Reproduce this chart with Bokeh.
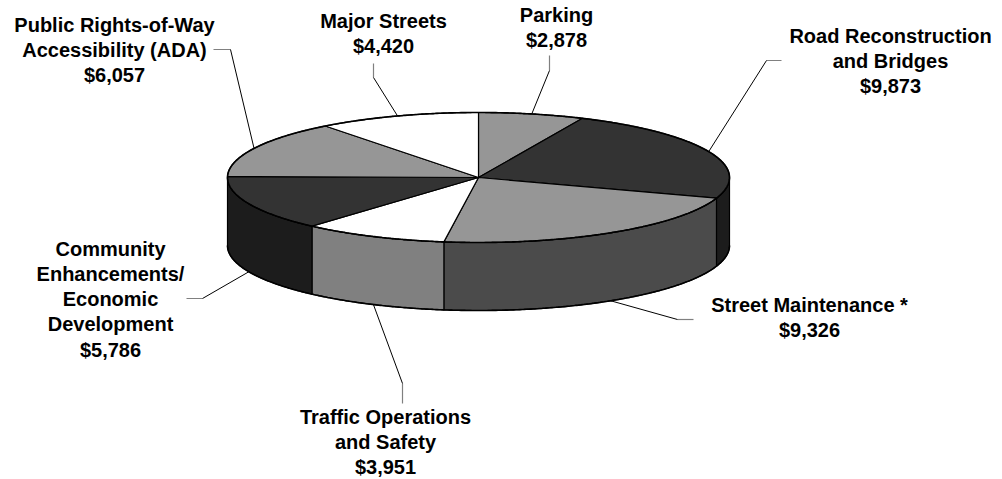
import numpy as np
from bokeh.plotting import figure
from bokeh.models import Range1d
from bokeh.core.properties import value
from bokeh.embed import file_html
from bokeh.resources import INLINE

# ---- data ----
categories = ["Parking", "Road Reconstruction\nand Bridges", "Street Maintenance *",
              "Traffic Operations\nand Safety", "Community\nEnhancements/\nEconomic\nDevelopment",
              "Public Rights-of-Way\nAccessibility (ADA)", "Major Streets"]
values = [2878, 9873, 9326, 3951, 5786, 6057, 4420]
top_colors = ["#969696", "#333333", "#969696", "#ffffff", "#333333", "#969696", "#ffffff"]
side_colors = ["#4b4b4b", "#1c1c1c", "#4b4b4b", "#808080", "#1c1c1c", "#4b4b4b", "#808080"]

# ---- layout (pixel-like coordinates) ----
CX, CY, RX, RY, DEPTH = 478.0, 177.0, 251.0, 65.0, 68.0
label_pos = [(556, 14), (890, 35), (809, 304), (385, 416), (110, 248), (114, 24), (383, 20)]
stub_start = [(549, 55), (781, 60), (693, 319), (402, 403), (186, 298), (213, 49), (373, 63)]
elbow = [(549, 70), (766, 60), (677, 319), (402, 383), (202, 298), (230, 49), (373, 77)]
LINE_SP = 25.3
FONT = value("Liberation Sans")

W, H = 1002, 479
p = figure(width=W, height=H, output_backend="svg", toolbar_location=None,
           x_range=Range1d(0, W), y_range=Range1d(H, 0), min_border=0)
p.axis.visible = False
p.grid.visible = False
p.outline_line_color = None
p.background_fill_color = "white"


def ex(t):
    return CX + RX * np.sin(np.radians(t))


def ey(t):
    return CY - RY * np.cos(np.radians(t))


total = float(sum(values))
cum = np.concatenate([[0.0], np.cumsum(values)]) / total * 360.0
starts, ends = cum[:-1], cum[1:]

# sides (front half only: angles 90..270 measured clockwise from top)
sxs, sys_, scol = [], [], []
for a0, a1, c in zip(starts, ends, side_colors):
    lo, hi = max(a0, 90.0), min(a1, 270.0)
    if hi <= lo:
        continue
    t = np.linspace(lo, hi, 120)
    xs = list(ex(t)) + list(ex(t[::-1]))
    ys = list(ey(t)) + list(ey(t[::-1]) + DEPTH)
    sxs.append(xs)
    sys_.append(ys)
    scol.append(c)
p.patches(sxs, sys_, fill_color=scol, line_color="black", line_width=1.2)

# tops
txs, tys = [], []
for a0, a1 in zip(starts, ends):
    t = np.linspace(a0, a1, 200)
    txs.append([CX] + list(ex(t)) + [CX])
    tys.append([CY] + list(ey(t)) + [CY])
p.patches(txs, tys, fill_color=top_colors, line_color="black", line_width=1.2)

# outer outlines
tt = np.linspace(0, 360, 721)
p.line(ex(tt), ey(tt), line_color="black", line_width=1.6)
tb = np.linspace(90, 270, 361)
p.line(ex(tb), ey(tb) + DEPTH, line_color="black", line_width=1.6)

# leader lines: anchor on edge at slice mid angle
mids = (starts + ends) / 2.0
for i, m in enumerate(mids):
    ax, ay = ex(m), ey(m)
    if 90.0 < m < 270.0:
        ay += DEPTH
    p.line([stub_start[i][0], elbow[i][0]], [stub_start[i][1], elbow[i][1]],
           line_color="#808080", line_width=1.2)
    p.line([elbow[i][0], ax], [elbow[i][1], ay], line_color="black", line_width=1)

# labels
lx, ly, lt = [], [], []
for i, (cat, v) in enumerate(zip(categories, values)):
    lines = cat.split("\n") + ["${:,}".format(v)]
    x0, y0 = label_pos[i]
    for k, s in enumerate(lines):
        lx.append(x0)
        ly.append(y0 + k * LINE_SP)
        lt.append(s)
p.text(lx, ly, text=lt, text_font=FONT, text_font_style="bold", text_font_size="20px",
       text_align="center", text_baseline="middle", text_color="black")

open("out.html", "w").write(file_html(p, INLINE))
